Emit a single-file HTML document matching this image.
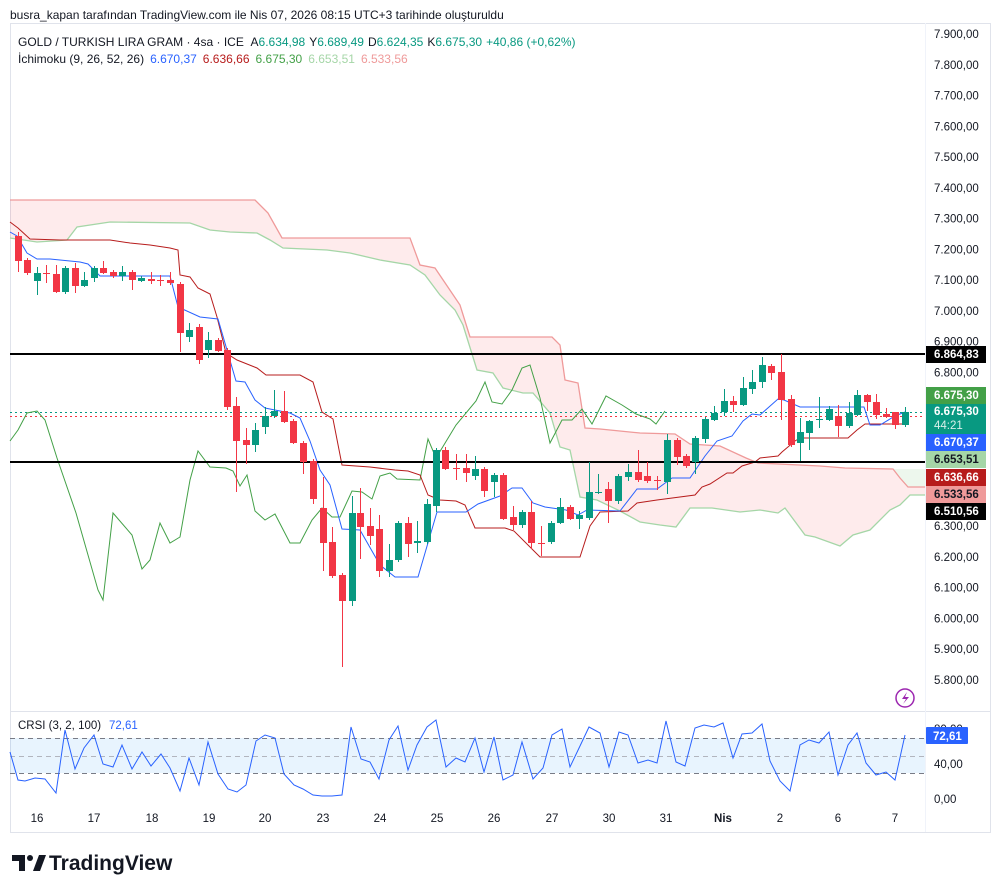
<!DOCTYPE html>
<html><head><meta charset="utf-8">
<style>
body{margin:0;background:#fff;width:1001px;height:893px;overflow:hidden;font-family:"Liberation Sans",sans-serif;}
svg{position:absolute;left:0;top:0}
text{font-family:"Liberation Sans",sans-serif}
</style></head><body>
<svg id="s" width="1001" height="893" viewBox="0 0 1001 893"></svg>
<script>
var o='';
function P(pts){return pts.map(function(p){return p[0]+','+p[1]}).join(' ');}
o+='<rect x="10.5" y="23.5" width="980" height="809" fill="none" stroke="#e0e3eb"/>';
o+='<line x1="10" y1="711.5" x2="991" y2="711.5" stroke="#e0e3eb"/>';
o+='<line x1="925.5" y1="23" x2="925.5" y2="832" stroke="#f0f3fa"/>';
var B=[[10,200],[255,200],[268,213],[282,238],[410,238],[420,265],[435,268],[460,305],[470,337],[552,337],[560,345],[565,380],[578,383],[585,428],[600,429],[640,433],[675,434],[690,444],[720,446],[746,458],[758,463],[820,466],[845,468],[893,469],[900,478],[908,487],[925,487]];
var A=[[10,238],[37,242],[67,240],[77,227],[110,222],[190,223],[210,230],[230,232],[257,233],[270,240],[283,248],[327,250],[350,253],[380,260],[410,265],[425,275],[440,295],[455,310],[463,325],[477,370],[493,373],[503,388],[523,393],[533,393],[550,413],[560,447],[570,450],[580,497],[597,500],[620,511],[640,522],[660,525],[676,527],[690,508],[712,508],[740,512],[760,510],[778,513],[785,508],[805,535],[815,537],[840,546],[853,535],[870,530],[890,510],[900,505],[910,495],[925,495]];
o+='<polygon points="'+P(B.concat(A.slice().reverse()))+'" fill="rgba(242,54,69,0.1)"/>';
o+='<polygon points="893,469 925,469 925,487 908,487 900,478" fill="rgba(76,175,80,0.1)"/>';
o+='<polyline points="'+P(B)+'" fill="none" stroke="#ef9a9a" stroke-width="1.3"/>';
o+='<polyline points="'+P(A)+'" fill="none" stroke="#a5d6a7" stroke-width="1.3"/>';
o+='<line x1="10" y1="412.5" x2="925" y2="412.5" stroke="#089981" stroke-dasharray="2,3"/>';
o+='<line x1="10" y1="416.5" x2="925" y2="416.5" stroke="#f23645" stroke-dasharray="2,3"/>';
var C=[[10,441],[18,430],[27,413],[37,411],[45,420],[57,458],[76,513],[98,590],[103,600],[113,513],[132,535],[142,569],[150,560],[160,523],[170,543],[180,537],[190,480],[198,451],[210,467],[226,468],[233,471],[240,486],[247,475],[255,511],[265,520],[275,514],[290,543],[300,543],[312,520],[322,508],[332,517],[340,517],[352,491],[362,492],[372,499],[380,476],[390,473],[397,479],[420,480],[428,439],[436,458],[456,425],[476,401],[485,382],[492,402],[502,404],[512,390],[522,368],[530,365],[540,398],[550,443],[562,420],[572,420],[582,409],[592,424],[606,396],[622,405],[636,414],[650,419],[656,424],[665,411]];
o+='<polyline points="'+P(C)+'" fill="none" stroke="#43a047" stroke-width="1"/>';
var K=[[10,222],[18,228],[30,239],[60,240],[110,240],[130,243],[150,245],[170,248],[178,250],[180,275],[190,277],[198,288],[210,294],[217,317],[226,353],[237,360],[257,368],[266,375],[300,375],[313,382],[322,412],[333,419],[342,465],[370,467],[395,470],[408,471],[420,475],[428,495],[440,500],[456,501],[465,505],[475,528],[505,528],[514,531],[540,557],[580,557],[590,526],[600,512],[628,511],[637,503],[657,500],[695,495],[702,487],[710,484],[727,473],[733,473],[742,466],[755,462],[760,458],[778,456],[782,452],[795,441],[800,438],[848,438],[857,430],[865,424],[905,424]];
o+='<polyline points="'+P(K)+'" fill="none" stroke="#b71c1c" stroke-width="1"/>';
var T=[[10,232],[17,236],[27,253],[37,259],[50,259],[80,262],[88,264],[100,276],[170,276],[178,307],[200,317],[218,319],[236,381],[245,382],[255,400],[265,408],[290,413],[300,418],[310,441],[320,470],[330,485],[342,529],[360,530],[380,565],[395,577],[418,577],[437,512],[466,512],[478,504],[500,496],[512,488],[522,488],[533,503],[545,507],[566,510],[578,515],[587,510],[620,511],[637,489],[657,489],[672,478],[690,478],[705,456],[717,441],[732,436],[743,421],[752,414],[760,415],[778,399],[784,400],[800,407],[864,407],[870,425],[880,425],[895,416],[905,412]];
o+='<polyline points="'+P(T)+'" fill="none" stroke="#2962ff" stroke-width="1"/>';
o+='<line x1="10" y1="354" x2="925" y2="354" stroke="#000" stroke-width="2"/>';
o+='<line x1="10" y1="462" x2="925" y2="462" stroke="#000" stroke-width="2"/>';
var D=[[18,236,261,232,272],[27,260,273,258,275],[37,281,273,267,295],[46,273,274,265,283],[56,274,292,265,293],[65,292,268,266,294],[75,268,286,263,293],[84,286,280,272,287],[94,278,268,266,282],[103,268,273,261,274],[113,272,276,270,278],[122,276,272,266,281],[132,272,280,270,290],[141,281,278,276,282],[151,279,281,272,284],[160,280,281,275,286],[170,280,283,272,285],[180,284,333,282,352],[189,337,330,323,342],[199,327,360,324,364],[208,350,340,332,358],[218,340,351,338,352],[227,350,407,348,410],[236,406,441,397,492],[246,440,445,428,464],[255,445,430,423,452],[265,427,416,407,434],[274,416,411,390,418],[284,411,422,391,423],[293,421,443,419,444],[303,443,462,441,474],[313,461,499,459,504],[323,508,543,477,571],[332,542,576,527,578],[342,575,601,573,667],[352,601,513,496,606],[360,513,527,488,559],[370,526,536,508,545],[379,529,571,515,577],[389,571,560,544,577],[398,560,523,521,562],[408,523,544,517,557],[417,543,541,521,553],[427,542,504,499,544],[436,506,450,448,512],[445,450,469,447,470],[456,468,469,454,480],[466,468,473,454,482],[475,476,469,456,480],[484,469,491,467,497],[494,482,475,473,497],[503,475,519,473,520],[513,517,525,506,530],[522,525,512,510,528],[531,512,543,501,549],[541,543,544,526,556],[551,542,523,521,544],[560,523,507,498,524],[570,507,519,505,520],[579,519,515,511,529],[589,518,492,462,520],[598,493,492,474,494],[608,489,501,482,523],[618,501,476,474,504],[628,477,472,464,481],[638,472,480,450,482],[647,476,481,462,483],[657,480,481,476,490],[667,482,440,434,494],[677,440,457,438,465],[686,456,466,454,468],[695,462,438,436,474],[705,439,419,417,443],[714,420,413,406,421],[724,412,401,389,416],[733,401,405,396,412],[743,405,388,377,406],[752,389,382,370,394],[762,382,365,357,388],[771,366,373,364,380],[781,372,400,354,420],[791,399,445,395,447],[800,443,432,418,461],[809,433,421,420,450],[819,420,419,397,428],[829,420,409,406,421],[838,416,426,405,437],[849,426,413,402,428],[857,415,395,390,416],[867,395,402,394,411],[876,402,415,394,419],[886,414,417,408,418],[895,412,425,412,429],[905,425,412,407,427]];
D.forEach(function(d){var up=d[2]<d[1];var c=up?'#089981':'#f23645';var t=Math.min(d[1],d[2]),h=Math.max(Math.abs(d[1]-d[2]),1);
o+='<line x1="'+(d[0]+.5)+'" y1="'+d[3]+'" x2="'+(d[0]+.5)+'" y2="'+d[4]+'" stroke="'+c+'"/>';
o+='<rect x="'+(d[0]-3)+'" y="'+t+'" width="7" height="'+h+'" fill="'+c+'"/>';});
for(var p=7900;p>=5800;p-=100){var y=34+(7900-p)*0.3075;if(y>380&&y<520)continue;
var s=(p/1000).toFixed(3)+',00';
o+='<text x="934" y="'+(y+4)+'" font-size="11.5" fill="#131722">'+s+'</text>';}
var tags=[[354,'#000','#fff','6.864,83'],[395,'#43a047','#fff','6.675,30'],[442,'#2962ff','#fff','6.670,37'],[459,'#a5d6a7','#131722','6.653,51'],[477,'#b71c1c','#fff','6.636,66'],[494,'#ef9a9a','#131722','6.533,56'],[511,'#000','#fff','6.510,56']];
o+='<rect x="926" y="403" width="60" height="31" fill="#089981"/><text x="934" y="415" font-size="11.5" font-weight="bold" fill="#fff">6.675,30</text><text x="934" y="429" font-size="11.5" fill="#d8f0ea">44:21</text>';
tags.forEach(function(t){o+='<rect x="926" y="'+(t[0]-8)+'" width="60" height="17" fill="'+t[1]+'"/><text x="934" y="'+(t[0]+4)+'" font-size="11.5" font-weight="bold" fill="'+t[2]+'">'+t[3]+'</text>';});
o+='<rect x="10" y="738" width="915" height="35" fill="rgba(33,150,243,0.1)"/>';
[738,773].forEach(function(y){o+='<line x1="10" y1="'+y+'.5" x2="925" y2="'+y+'.5" stroke="#787b86" stroke-dasharray="5,4"/>';});
o+='<line x1="10" y1="756.5" x2="925" y2="756.5" stroke="#b2b5be" stroke-dasharray="5,4"/>';
var R=[[10,752],[18,780],[25,781],[35,778],[45,779],[56,793],[65,730],[75,769],[84,748],[94,735],[103,764],[113,767],[122,745],[132,769],[142,752],[151,766],[161,754],[170,768],[180,791],[189,758],[199,785],[208,742],[218,774],[228,789],[237,792],[246,785],[256,741],[265,735],[275,738],[284,774],[294,785],[303,789],[313,795],[322,796],[332,796],[342,795],[351,727],[361,759],[370,762],[379,779],[389,740],[398,726],[408,770],[417,745],[427,727],[436,720],[446,767],[456,758],[465,762],[475,738],[484,772],[494,737],[503,780],[513,775],[522,742],[533,779],[543,768],[552,735],[562,729],[570,767],[580,746],[589,727],[600,733],[609,767],[619,732],[628,735],[638,763],[648,760],[657,763],[666,721],[676,762],[685,766],[695,728],[704,725],[714,727],[723,723],[733,758],[742,734],[752,733],[762,724],[770,761],[780,781],[790,791],[800,745],[809,740],[819,743],[829,732],[838,775],[848,745],[857,733],[866,763],[876,775],[886,772],[895,780],[905,735]];
o+='<polyline points="'+P(R)+'" fill="none" stroke="#2962ff" stroke-width="1"/>';
o+='<text x="934" y="733" font-size="11.5" fill="#131722">80,00</text><text x="934" y="768" font-size="11.5" fill="#131722">40,00</text><text x="934" y="803" font-size="11.5" fill="#131722">0,00</text>';
o+='<rect x="926" y="727" width="42" height="17" rx="1" fill="#2962ff"/><text x="933" y="740" font-size="11.5" font-weight="bold" fill="#fff">72,61</text>';
o+='<text x="18" y="729" font-size="11.5" fill="#131722">CRSI (3, 2, 100)</text><text x="109" y="729" font-size="11.5" fill="#2962ff">72,61</text>';
var L=[[37,'16'],[94,'17'],[152,'18'],[209,'19'],[265,'20'],[323,'23'],[380,'24'],[437,'25'],[494,'26'],[552,'27'],[609,'30'],[666,'31'],[723,'Nis'],[780,'2'],[838,'6'],[895,'7']];
L.forEach(function(l){o+='<text x="'+l[0]+'" y="822" font-size="11.5" text-anchor="middle" fill="#131722"'+(l[1]=='Nis'?' font-weight="bold"':'')+'>'+l[1]+'</text>';});
o+='<circle cx="905" cy="698" r="9" fill="none" stroke="#9c27b0" stroke-width="1.5"/><path d="M907 692 L902 699 L906 699 L903 704 L909 697 L905 697 Z" fill="#9c27b0"/>';
o+='<text x="10" y="19" font-size="12" fill="#131722">busra_kapan tarafından TradingView.com ile Nis 07, 2026 08:15 UTC+3 tarihinde oluşturuldu</text>';
o+='<text x="18" y="46" font-size="12" fill="#131722">GOLD / TURKISH LIRA GRAM · 4sa · ICE <tspan dx="4">A</tspan><tspan fill="#089981">6.634,98</tspan><tspan dx="4">Y</tspan><tspan fill="#089981">6.689,49</tspan><tspan dx="4">D</tspan><tspan fill="#089981">6.624,35</tspan><tspan dx="4">K</tspan><tspan fill="#089981">6.675,30</tspan><tspan dx="4" fill="#089981">+40,86 (+0,62%)</tspan></text>';
o+='<text x="18" y="63" font-size="12" fill="#131722">İchimoku (9, 26, 52, 26)<tspan dx="6" fill="#2962ff">6.670,37</tspan><tspan dx="6" fill="#b71c1c">6.636,66</tspan><tspan dx="6" fill="#43a047">6.675,30</tspan><tspan dx="6" fill="#a5d6a7">6.653,51</tspan><tspan dx="6" fill="#ef9a9a">6.533,56</tspan></text>';
o+='<path d="M12 855 h13 v16 h-6 v-10 h-7 z" fill="#131722"/><circle cx="30" cy="858" r="3" fill="#131722"/><path d="M33 871 l6 -16 h7 l-6 16 z" fill="#131722"/>';
o+='<text x="49" y="870" font-size="21" font-weight="bold" fill="#131722">TradingView</text>';
document.getElementById('s').innerHTML=o;
</script>
</body></html>
